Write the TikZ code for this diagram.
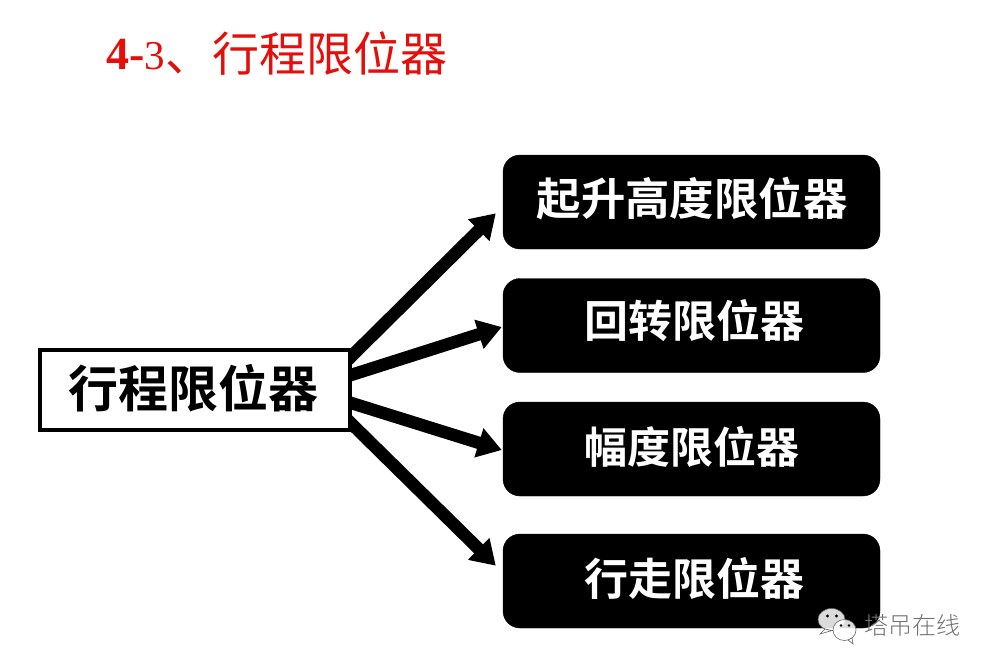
\documentclass[tikz,border=0pt]{standalone}
\usepackage{fontspec}
\usetikzlibrary{arrows.meta,calc,backgrounds}
\setmainfont{Liberation Serif}
\newfontfamily\cjkb{Noto Sans CJK SC}[UprightFont=* Bold]
\newfontfamily\cjkr{Noto Sans CJK SC}
\newfontfamily\cjkl{Noto Sans CJK SC}[UprightFont=* Light]
\definecolor{titlered}{RGB}{228,14,10}
\tikzset{
 x=1pt,y=-1pt,
 darkbox/.style={fill=black,draw=black,rounded corners=17pt,minimum width=377pt,minimum height=94pt,inner sep=0pt},
 darklabel/.style={inner sep=0pt,text=white,font=\cjkb\fontsize{44}{44}\selectfont},
 srcbox/.style={draw=black,line width=4pt,fill=white,minimum width=310pt,minimum height=80pt,inner sep=0pt},
 fatarrow/.style={line width=12.5pt,-{Triangle[length=24pt,width=29pt]}},
 bubble/.style={draw=black!60,line width=.6pt,fill=white,fill opacity=.86},
}
\begin{document}
\begin{tikzpicture}
\useasboundingbox (0,0) rectangle (992,670);
\node[anchor=base west,inner sep=0pt,text=titlered] (title) at (106,69) {\fontsize{46}{46}\selectfont\textbf{4-}\fontsize{41}{41}\selectfont 3\cjkr\fontsize{47}{47}\selectfont\raisebox{-2pt}{、行程限位器}};
\node[srcbox,label={[inner sep=0pt,yshift=2pt,xshift=-1pt,font=\cjkb\fontsize{50}{50}\selectfont]center:{行程限位器}}] (src) at (194.6,390) {};
\node[darkbox,label={[darklabel,yshift=3.5pt,xshift=.5pt]center:{\fontsize{44.4}{44.4}\selectfont 起升高度限位器}}] (a) at (691.5,202) {};
\node[darkbox,label={[darklabel,yshift=4.5pt,xshift=2.5pt]center:{回转限位器}}] (b) at (691.5,325.5) {};
\node[darkbox,label={[darklabel,yshift=2.5pt]center:{\fontsize{43}{43}\selectfont 幅度限位器}}] (c) at (691.5,449) {};
\node[darkbox,label={[darklabel,yshift=2.5pt,xshift=2.5pt]center:{行走限位器}}] (d) at (691.5,581) {};
\begin{scope}[on background layer]
\draw[fatarrow] ($(src.east)+(-10,-24)$) -- ($(a.west)+(-7,11.3)$);
\draw[fatarrow] ($(src.east)+(-10,-12)$) -- ($(b.west)+(-1,1.5)$);
\draw[fatarrow] ($(src.east)+(-10,10)$) -- ($(c.west)+(-1,1)$);
\draw[fatarrow] ($(src.east)+(-10,24)$) -- ($(d.west)+(-7,-15.3)$);
\end{scope}
% watermark icon
\path[bubble] (831.5,619.5) ellipse (13.5 and 11);
\path[bubble] (825,629) -- (820,634) -- (832,630.5) -- cycle;
\path[bubble] (844.5,630) ellipse (11.5 and 10.5);
\path[bubble] (848,640) -- (853,644) -- (852,638) -- cycle;
\fill[black] (827.5,616) circle (1.7) (836.5,616) circle (1.7) (841,625.5) circle (1.4) (849,625.5) circle (1.4);
\node[anchor=west,inner sep=0pt,text=black!55] (mark) at (864,625) {\cjkl\fontsize{24}{24}\selectfont 塔吊在线};
\end{tikzpicture}
\end{document}
